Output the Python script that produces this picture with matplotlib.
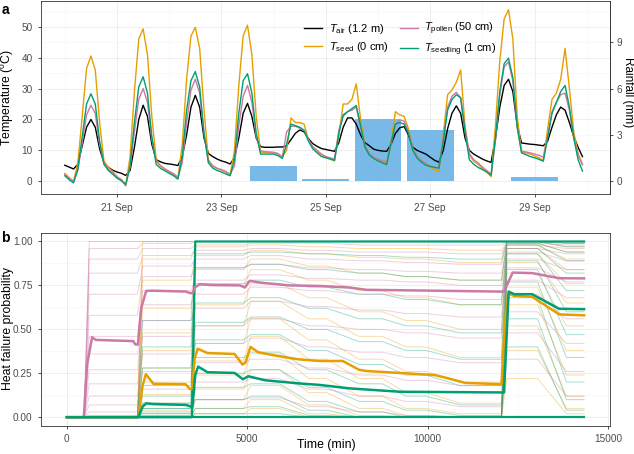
import pandas as pd
import matplotlib
matplotlib.use('Agg')
import matplotlib.pyplot as plt
import matplotlib.dates as mdates
from matplotlib.ticker import MultipleLocator, FixedLocator

plt.rcParams['font.family'] = ['Liberation Sans', 'DejaVu Sans']
plt.rcParams['mathtext.fontset'] = 'custom'
plt.rcParams['mathtext.rm'] = 'Liberation Sans'
plt.rcParams['mathtext.it'] = 'Liberation Sans:italic'

# ---------------- panel a: temperatures every 2 h from 20 Sep 00:00 ----------------
t_air = [
    5.2, 4.6, 4.0, 5.5, 11.5, 17.5, 20.0, 17.5, 10.5, 6.0, 4.5, 3.6,
    3.0, 2.6, 1.9, 3.5, 11.0, 20.0, 24.6, 21.0, 12.0, 7.0, 6.3, 5.8,
    5.6, 5.4, 5.1, 8.0, 15.0, 24.0, 27.8, 24.0, 14.0, 9.0, 8.0, 7.2,
    6.6, 6.2, 5.6, 7.5, 14.0, 22.0, 25.2, 21.0, 14.0, 11.2, 11.0, 11.0,
    11.0, 11.1, 11.1, 11.5, 13.5, 15.5, 16.6, 16.0, 13.8, 12.2, 11.3, 10.6,
    10.3, 10.0, 9.7, 12.5, 17.5, 20.5, 20.5, 18.5, 15.0, 12.5, 11.5, 10.4,
    10.0, 9.8, 9.7, 12.0, 15.5, 17.3, 17.7, 15.0, 11.0, 10.0, 9.4, 8.8,
    7.8, 6.8, 6.2, 10.0, 17.0, 22.0, 24.4, 22.0, 14.0, 10.0, 8.8, 8.0,
    7.2, 6.6, 6.1, 14.0, 24.0, 31.0, 33.0, 29.0, 18.0, 12.4, 12.2, 12.0,
    11.9, 11.7, 11.5, 13.0, 17.5, 21.5, 24.0, 23.0, 19.0, 14.5, 11.0, 8.0,
]
t_seed = [
    2.5, 1.2, 0.0, 6.0, 21.0, 36.5, 40.5, 36.0, 19.0, 6.5, 4.5, 3.2,
    1.5, 0.5, -1.5, 8.0, 29.0, 46.0, 49.3, 41.0, 21.0, 7.0, 5.0, 4.0,
    3.0, 2.2, 1.0, 12.0, 33.0, 47.0, 49.8, 43.0, 23.0, 7.0, 5.0, 4.2,
    3.6, 3.0, 2.0, 10.0, 31.0, 47.0, 50.5, 41.0, 21.0, 9.5, 9.3, 9.3,
    9.2, 8.8, 8.0, 10.0, 20.5, 19.0, 19.0, 18.5, 13.5, 11.0, 9.8, 8.6,
    7.8, 7.2, 6.6, 15.0, 25.0, 25.0, 26.5, 31.5, 20.0, 11.5, 9.0, 7.8,
    7.0, 6.4, 5.8, 13.0, 22.5, 21.5, 21.0, 17.0, 10.5, 8.0, 6.5, 5.5,
    4.5, 3.7, 3.2, 15.0, 28.0, 29.5, 32.0, 36.0, 18.0, 8.5, 6.5, 5.5,
    4.2, 3.0, 1.5, 18.0, 39.0, 52.5, 55.5, 46.0, 21.0, 9.5, 9.2, 8.8,
    8.2, 7.6, 6.8, 17.0, 26.5, 28.5, 33.0, 43.0, 30.0, 16.0, 9.0, 5.5,
]
t_seedling = [
    1.8, 0.5, -0.5, 4.0, 14.5, 25.0, 28.3, 25.0, 13.0, 5.5, 3.5, 2.3,
    1.0, 0.2, -1.0, 5.0, 19.0, 30.5, 33.8, 28.5, 14.5, 5.5, 4.2, 3.4,
    2.6, 1.8, 0.7, 8.0, 23.0, 32.5, 35.5, 30.5, 15.5, 6.0, 4.3, 3.5,
    3.0, 2.4, 1.8, 7.0, 22.0, 32.5, 34.8, 28.5, 15.5, 8.8, 8.8, 8.8,
    8.8, 8.3, 7.4, 12.0, 18.5, 18.0, 17.5, 16.5, 13.0, 10.5, 9.2, 8.0,
    7.6, 7.2, 6.8, 15.5, 21.5, 22.5, 23.5, 24.5, 18.0, 11.0, 8.5, 7.4,
    6.6, 6.0, 5.4, 12.5, 18.5, 19.0, 18.5, 15.5, 10.0, 7.5, 6.2, 5.2,
    4.8, 4.5, 4.3, 13.0, 23.0, 26.5, 28.0, 27.0, 16.0, 7.0, 5.5, 4.5,
    3.8, 3.0, 2.0, 14.0, 29.0, 38.0, 39.8, 33.5, 17.5, 9.2, 8.6, 8.0,
    7.6, 7.1, 6.5, 14.0, 22.0, 25.5, 29.0, 31.0, 24.0, 14.0, 7.0, 3.3,
]
t_pollen = [
    2.2, 1.0, 0.0, 3.5, 12.5, 21.5, 24.6, 22.0, 12.0, 5.8, 4.0, 2.8,
    1.4, 0.6, -1.3, 4.5, 16.0, 26.5, 30.0, 25.5, 13.5, 6.5, 5.0, 4.0,
    3.2, 2.5, 1.3, 6.0, 19.0, 29.5, 33.0, 28.5, 15.5, 6.5, 5.0, 4.2,
    3.8, 3.2, 2.3, 5.0, 18.0, 27.5, 31.0, 25.5, 14.5, 9.8, 9.6, 9.5,
    9.4, 9.0, 7.8, 16.0, 17.8, 17.8, 17.2, 16.5, 13.5, 11.2, 10.0, 8.8,
    8.0, 7.6, 7.2, 16.5, 21.0, 22.5, 23.0, 24.0, 17.5, 11.5, 9.0, 7.8,
    7.2, 6.6, 6.3, 12.0, 18.5, 19.8, 19.5, 16.0, 10.5, 8.0, 6.8, 5.8,
    5.0, 4.5, 4.2, 14.0, 24.0, 27.5, 28.8, 27.0, 17.0, 9.0, 7.0, 6.0,
    4.6, 3.5, 2.3, 13.0, 28.0, 37.0, 38.6, 32.5, 17.5, 9.8, 9.5, 9.2,
    8.8, 8.4, 7.8, 14.5, 22.5, 25.5, 28.0, 28.5, 23.0, 14.0, 8.5, 5.3,
]
rain_dates = ['2020-09-24', '2020-09-25', '2020-09-26', '2020-09-27', '2020-09-29']
rain_mm = [1.0, 0.12, 4.0, 3.3, 0.3]
RAIN_SCALE = 5  # secondary axis: 1 mm = 5 degC

# ---------------- panel b: heat failure probability ----------------
# plateau windows (min) shared by the individual curves
seg_start = [0, 620, 2100, 3560, 5100, 6700, 8100, 9400, 10900, 12200, 13850]
seg_end = [480, 1960, 3440, 4900, 5900, 7200, 8750, 9950, 12050, 13050, 14340]

pollen_runs = [
    [0, 1.00, 1.00, 1.00, 1.00, 1.00, 1.00, 1.00, 1.00, 1.00, 1.00],
    [0, 0.96, 0.99, 1.00, 1.00, 1.00, 1.00, 1.00, 1.00, 1.00, 1.00],
    [0, 0.90, 0.96, 0.98, 0.99, 0.99, 0.98, 0.98, 0.98, 1.00, 0.99],
    [0, 0.82, 0.92, 0.95, 0.96, 0.95, 0.94, 0.94, 0.93, 0.99, 0.98],
    [0, 0.70, 0.86, 0.90, 0.92, 0.90, 0.89, 0.88, 0.87, 0.98, 0.96],
    [0, 0.58, 0.80, 0.85, 0.87, 0.85, 0.84, 0.83, 0.82, 0.96, 0.93],
    [0, 0.46, 0.72, 0.78, 0.81, 0.79, 0.78, 0.77, 0.75, 0.94, 0.89],
    [0, 0.36, 0.64, 0.70, 0.74, 0.72, 0.70, 0.69, 0.67, 0.90, 0.84],
    [0, 0.27, 0.55, 0.62, 0.66, 0.63, 0.61, 0.59, 0.57, 0.85, 0.77],
    [0, 0.19, 0.46, 0.52, 0.56, 0.52, 0.50, 0.48, 0.45, 0.78, 0.68],
    [0, 0.12, 0.36, 0.42, 0.45, 0.40, 0.37, 0.34, 0.31, 0.70, 0.56],
    [0, 0.07, 0.26, 0.31, 0.33, 0.28, 0.24, 0.21, 0.18, 0.60, 0.42],
    [0, 0.03, 0.16, 0.20, 0.22, 0.16, 0.12, 0.09, 0.06, 0.48, 0.26],
    [0, 0.01, 0.07, 0.10, 0.11, 0.06, 0.03, 0.01, 0.00, 0.33, 0.12],
]
seed_runs = [
    [0, 0, 1.00, 1.00, 1.00, 1.00, 1.00, 1.00, 1.00, 1.00, 1.00],
    [0, 0, 0.90, 0.97, 0.98, 0.97, 0.96, 0.96, 0.95, 1.00, 0.99],
    [0, 0, 0.78, 0.92, 0.95, 0.93, 0.91, 0.90, 0.88, 1.00, 0.97],
    [0, 0, 0.62, 0.84, 0.90, 0.86, 0.82, 0.80, 0.78, 0.99, 0.94],
    [0, 0, 0.48, 0.75, 0.84, 0.78, 0.72, 0.68, 0.64, 0.98, 0.90],
    [0, 0, 0.38, 0.64, 0.76, 0.68, 0.60, 0.55, 0.50, 0.96, 0.84],
    [0, 0, 0.28, 0.52, 0.66, 0.56, 0.46, 0.40, 0.34, 0.93, 0.76],
    [0, 0, 0.20, 0.42, 0.56, 0.44, 0.33, 0.26, 0.20, 0.88, 0.65],
    [0, 0, 0.13, 0.32, 0.46, 0.33, 0.22, 0.14, 0.08, 0.82, 0.52],
    [0, 0, 0.08, 0.24, 0.36, 0.22, 0.12, 0.05, 0.02, 0.74, 0.38],
    [0, 0, 0.04, 0.16, 0.27, 0.14, 0.05, 0.01, 0.00, 0.64, 0.24],
    [0, 0, 0.02, 0.10, 0.18, 0.07, 0.01, 0.00, 0.00, 0.52, 0.12],
    [0, 0, 0.00, 0.05, 0.10, 0.02, 0.00, 0.00, 0.00, 0.38, 0.05],
    [0, 0, 0.00, 0.02, 0.05, 0.00, 0.00, 0.00, 0.00, 0.22, 0.02],
]
seedling_runs = [
    [0, 0, 0.05, 1.00, 1.00, 1.00, 1.00, 1.00, 1.00, 1.00, 1.00],
    [0, 0, 0.55, 0.93, 0.94, 0.93, 0.92, 0.91, 0.90, 1.00, 0.99],
    [0, 0, 0.40, 0.85, 0.87, 0.84, 0.82, 0.80, 0.78, 1.00, 0.97],
    [0, 0, 0.28, 0.76, 0.78, 0.74, 0.70, 0.67, 0.64, 0.99, 0.94],
    [0, 0, 0.18, 0.65, 0.68, 0.62, 0.56, 0.52, 0.48, 0.98, 0.89],
    [0, 0, 0.12, 0.54, 0.57, 0.50, 0.43, 0.38, 0.33, 0.96, 0.82],
    [0, 0, 0.08, 0.44, 0.47, 0.38, 0.30, 0.24, 0.18, 0.93, 0.72],
    [0, 0, 0.05, 0.34, 0.37, 0.27, 0.19, 0.12, 0.07, 0.89, 0.60],
    [0, 0, 0.03, 0.25, 0.27, 0.17, 0.09, 0.04, 0.01, 0.84, 0.47],
    [0, 0, 0.02, 0.17, 0.19, 0.09, 0.03, 0.00, 0.00, 0.77, 0.34],
    [0, 0, 0.01, 0.10, 0.12, 0.04, 0.00, 0.00, 0.00, 0.68, 0.20],
    [0, 0, 0.00, 0.05, 0.06, 0.01, 0.00, 0.00, 0.00, 0.56, 0.10],
    [0, 0, 0.00, 0.02, 0.02, 0.00, 0.00, 0.00, 0.00, 0.40, 0.04],
]

# mean curves
pollen_mean_t = [0, 470, 560, 700, 800, 1840, 1900, 1970, 2060, 2200, 2400, 3300, 3420, 3480,
                 3560, 3690, 4000, 4797, 4935, 5070, 5400, 6180, 7000, 7840, 8300, 12000,
                 12120, 12360, 12900, 13650, 14340]
pollen_mean_v = [0, 0, 0.30, 0.455, 0.44, 0.433, 0.414, 0.414, 0.62, 0.719, 0.72, 0.715, 0.706, 0.706,
                 0.74, 0.757, 0.752, 0.75, 0.738, 0.776, 0.765, 0.75, 0.747, 0.738, 0.725, 0.715,
                 0.715, 0.823, 0.82, 0.791, 0.79]
seed_mean_t = [0, 1980, 2100, 2190, 2400, 3290, 3413, 3469, 3540, 3625, 3900, 4650, 4868, 4950,
               5090, 5300, 5800, 6400, 7000, 7650, 8100, 8300, 10200, 10500, 11050, 12050,
               12150, 12250, 12400, 12900, 13650, 14340]
seed_mean_v = [0, 0, 0.18, 0.245, 0.19, 0.188, 0.16, 0.16, 0.33, 0.39, 0.365, 0.36, 0.30, 0.31,
               0.40, 0.37, 0.35, 0.33, 0.32, 0.32, 0.27, 0.263, 0.24, 0.225, 0.195, 0.188,
               0.55, 0.705, 0.69, 0.685, 0.585, 0.58]
seedling_mean_t = [0, 1980, 2100, 2200, 2400, 3300, 3440, 3480, 3560, 3640, 3900, 4650, 4880, 4960,
                   5030, 5500, 6455, 7000, 7840, 9225, 12019, 12120, 12250, 12400, 12900, 13650,
                   14340]
seedling_mean_v = [0, 0, 0.06, 0.079, 0.075, 0.07, 0.06, 0.06, 0.24, 0.288, 0.256, 0.252, 0.216, 0.225,
                   0.233, 0.21, 0.192, 0.184, 0.164, 0.145, 0.141, 0.141, 0.715, 0.70, 0.70, 0.617,
                   0.615]
seedling_max_t = [0, 3470, 3560, 14340]
seedling_max_v = [0, 0, 1.0, 1.0]
seedling_min_t = [0, 14340]
seedling_min_v = [0, 0]

C_AIR, C_SEED, C_POLLEN, C_SEEDLING = 'black', '#E69F00', '#CC79A7', '#009E73'
C_RAIN = '#78B9E7'
GRID_MAJ, GRID_MIN = '#EBEBEB', '#F5F5F5'
TXT = '#4D4D4D'


def style(ax):
    for s in ax.spines.values():
        s.set_color('#333333')
        s.set_linewidth(0.6)
    ax.tick_params(which='major', colors='#333333', labelcolor=TXT, length=2.5,
                   width=0.6, labelsize=7.2)
    ax.tick_params(which='minor', length=0)
    ax.grid(which='major', color=GRID_MAJ, lw=0.6)
    ax.grid(which='minor', color=GRID_MIN, lw=0.4)
    ax.set_axisbelow(True)


fig = plt.figure(figsize=(6.34, 4.54), dpi=100)
ax_a = fig.add_axes([41 / 634, 1 - 194.3 / 454, 569 / 634, 193.3 / 454])
ax_b = fig.add_axes([41 / 634, 1 - 426 / 454, 569 / 634, 193.3 / 454])

# ---- panel a ----
times = pd.date_range('2020-09-20 00:00', periods=len(t_air), freq='2h')
rain_x = pd.to_datetime(rain_dates)
ax_a.bar(rain_x, [r * RAIN_SCALE for r in rain_mm], width=0.9, color=C_RAIN, zorder=1)
ax_a.plot(times, t_air, color=C_AIR, lw=1.0, label=r'$T_{\mathrm{air}}$ (1.2 m)', zorder=3)
ax_a.plot(times, t_seed, color=C_SEED, lw=1.0, label=r'$T_{\mathrm{seed}}$ (0 cm)', zorder=3)
ax_a.plot(times, t_pollen, color=C_POLLEN, lw=1.0, label=r'$T_{\mathrm{pollen}}$ (50 cm)', zorder=3)
ax_a.plot(times, t_seedling, color=C_SEEDLING, lw=1.0, label=r'$T_{\mathrm{seedling}}$ (1 cm)', zorder=3)

ax_a.set_xlim(pd.Timestamp('2020-09-19 13:03'), pd.Timestamp('2020-09-30 10:40'))
ax_a.set_ylim(-4.2, 58.3)
ax_a.xaxis.set_major_locator(mdates.DayLocator(bymonthday=[21, 23, 25, 27, 29]))
ax_a.xaxis.set_minor_locator(mdates.DayLocator(bymonthday=[20, 22, 24, 26, 28, 30]))
ax_a.xaxis.set_major_formatter(mdates.DateFormatter('%d %b'))
ax_a.yaxis.set_major_locator(MultipleLocator(10))
ax_a.yaxis.set_minor_locator(MultipleLocator(5))
style(ax_a)

sec = ax_a.secondary_yaxis('right', functions=(lambda t: t / RAIN_SCALE, lambda r: r * RAIN_SCALE))
sec.set_yticks([0, 3, 6, 9])
sec.tick_params(colors='#333333', labelcolor=TXT, length=2.5, width=0.6, labelsize=7.2, pad=2)
sec.spines['right'].set_color('#333333')
sec.spines['right'].set_linewidth(0.6)

ax_a.legend(ncol=2, frameon=False, loc='upper left', bbox_to_anchor=(0.455, 0.92),
            fontsize=8, handlelength=1.6, handletextpad=0.6, columnspacing=1.0,
            labelspacing=0.4, borderaxespad=0)

# ---- panel b ----
def run_xy(levels):
    xs, ys = [], []
    for s, e, v in zip(seg_start, seg_end, levels):
        xs += [s, e]
        ys += [v, v]
    return xs, ys


for runs, col in [(seed_runs, C_SEED), (seedling_runs, C_SEEDLING), (pollen_runs, C_POLLEN)]:
    for lv in runs:
        xs, ys = run_xy(lv)
        ax_b.plot(xs, ys, color=col, lw=0.7, alpha=0.35, zorder=2)

ax_b.plot(seedling_min_t, seedling_min_v, color=C_SEEDLING, lw=1.6, zorder=3)
ax_b.plot(seedling_max_t, seedling_max_v, color=C_SEEDLING, lw=1.6, zorder=3)
ax_b.plot(pollen_mean_t, pollen_mean_v, color=C_POLLEN, lw=1.8, zorder=4)
ax_b.plot(seed_mean_t, seed_mean_v, color=C_SEED, lw=1.8, zorder=4)
ax_b.plot(seedling_mean_t, seedling_mean_v, color=C_SEEDLING, lw=1.8, zorder=4)

ax_b.set_xlim(-717, 15059)
ax_b.set_ylim(-0.05, 1.05)
ax_b.xaxis.set_major_locator(FixedLocator([0, 5000, 10000, 15000]))
ax_b.xaxis.set_minor_locator(FixedLocator([2500, 7500, 12500]))
ax_b.yaxis.set_major_locator(FixedLocator([0, 0.25, 0.5, 0.75, 1.0]))
ax_b.yaxis.set_minor_locator(FixedLocator([0.125, 0.375, 0.625, 0.875]))
ax_b.set_yticklabels(['0.00', '0.25', '0.50', '0.75', '1.00'])
style(ax_b)

# axis titles placed in figure pixels like the reference
W, H = 634, 454
fig.text(8 / W, 1 - 97 / H, r'Temperature ($^{\mathrm{o}}$C)', rotation=90,
         ha='center', va='center', fontsize=8.8)
fig.text(628.5 / W, 1 - 92 / H, 'Rainfall (mm)', rotation=-90,
         ha='center', va='center', fontsize=8.5)
fig.text(8 / W, 1 - 329 / H, 'Heat failure probability', rotation=90,
         ha='center', va='center', fontsize=8.8)
fig.text(326 / W, 1 - 445 / H, 'Time (min)', ha='center', va='center', fontsize=8.8)

fig.text(0.002, 0.993, 'a', fontsize=10, fontweight='bold', va='top', ha='left')
fig.text(0.002, 1 - 231 / H, 'b', fontsize=10, fontweight='bold', va='top', ha='left')

fig.savefig('out.png', dpi=100)
